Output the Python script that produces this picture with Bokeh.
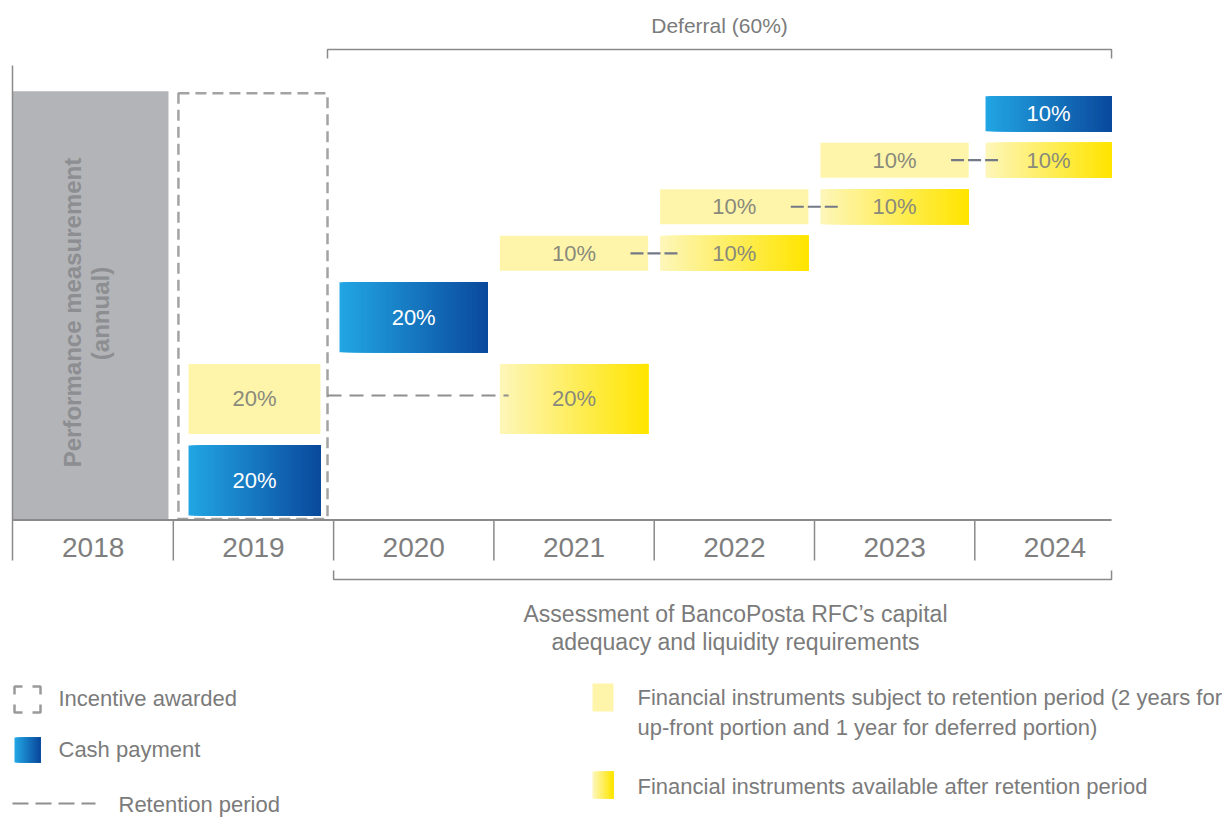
import numpy as np
from bokeh.plotting import figure
from bokeh.models import Range1d
from bokeh.embed import file_html
from bokeh.resources import INLINE
from bokeh.core.properties import value

# ---------------- data ----------------
years = ["2018", "2019", "2020", "2021", "2022", "2023", "2024"]
# staircase of portions, bottom-up
block_year = ["2019", "2019", "2020", "2021", "2022", "2023", "2024"]
block_value = [20, 20, 20, 10, 10, 10, 10]
block_kind = ["cash", "retained", "cash", "retained", "retained", "retained", "cash"]
# retention years for each "retained" block, in order (2 up-front, 1 deferred)
retention_years = [2, 1, 1, 1]
deferral_share = 60
perf_label = ["Performance measurement", "(annual)"]
assess_label = ["Assessment of BancoPosta RFC\u2019s capital", "adequacy and liquidity requirements"]
legend_left = ["Incentive awarded", "Cash payment", "Retention period"]
legend_right = ["Financial instruments subject to retention period (2 years for",
                "up-front portion and 1 year for deferred portion)",
                "Financial instruments available after retention period"]

# ---------------- layout ----------------
W, H = 1229, 818
OFF = 0
X0, COLW = 12.5, 160.3
BASE, K = 519.5, 3.5
GAP, B0 = 3.3, 1.3


def X(px):
    return (px - X0) / COLW


def Y(py):
    return (BASE - py) / K


col = {y: i for i, y in enumerate(years)}
INSET = {"2019": (0.095, 0.918), "2024": (0.067, 0.853)}
DEF_INSET = (0.037, 0.962)

SANS = value("Liberation Sans")
TXT = "#7b7b7b"
LINE = "#8a8a8a"
PALE = "#fef5aa"
BLUE0, BLUE1 = "#22a5e3", "#0a4a9d"
YEL0, YEL1 = "#fdf6b8", "#ffe500"
ON_YEL = "#8a8a7c"

p = figure(width=W, height=H, output_backend="svg", toolbar_location=None,
           x_range=Range1d(X(OFF), X(OFF + W)), y_range=Range1d(Y(OFF + H), Y(OFF)),
           min_border=0, min_border_left=0, min_border_right=0,
           min_border_top=0, min_border_bottom=0)
p.axis.visible = False
p.grid.visible = False
p.outline_line_color = None
p.background_fill_color = "white"
p.border_fill_color = "white"


def hex2rgb(h):
    h = h.lstrip("#")
    return np.array([int(h[i:i + 2], 16) for i in (0, 2, 4)], dtype=float)


def grad(l, r, b, t, c0, c1, n=48):
    """horizontal gradient: strips stacked left to right, each reaching the right edge"""
    a0, a1 = hex2rgb(c0), hex2rgb(c1)
    L, R, B, T, C = [], [], [], [], []
    for i in range(n):
        f = i / (n - 1)
        c = a0 + (a1 - a0) * f
        L.append(l + (r - l) * i / n)
        R.append(r)
        B.append(b)
        T.append(t)
        C.append("#%02x%02x%02x" % tuple(int(round(v)) for v in c))
    p.quad(left=L, right=R, bottom=B, top=T, fill_color=C, line_color=None)


def xspan(year):
    a, b = INSET.get(year, DEF_INSET)
    return col[year] + a, col[year] + b


# ---------------- stacked blocks ----------------
bottoms = []
cur = B0
for v in block_value:
    bottoms.append(cur)
    cur += v + GAP
stack_top = bottoms[-1] + block_value[-1]

# performance measurement (2018)
p.quad(left=[col["2018"]], right=[col["2018"] + 0.97], bottom=[0], top=[stack_top + 1.4],
       fill_color="#b3b4b7", line_color=None)
p.text(x=[X(72), X(100)], y=[Y(312), Y(313)], text=perf_label, angle=np.pi / 2,
       text_align="center", text_baseline="middle", text_font=SANS,
       text_font_style="bold", text_font_size="24px", text_color="#8d8e91")

# incentive awarded box (2019)
p.quad(left=[col["2019"] + 0.032], right=[col["2019"] + 0.962], bottom=[0.3],
       top=[stack_top + 0.8], fill_color=None, line_color="#a3a3a3",
       line_width=2.5, line_dash="11 6")

lx, ly, lt, lc = [], [], [], []
links = []
ri = 0
for yr, v, kind, b in zip(block_year, block_value, block_kind, bottoms):
    l, r = xspan(yr)
    t = b + v
    lx.append((l + r) / 2); ly.append(b + v / 2); lt.append(f"{v}%")
    if kind == "cash":
        grad(l, r, b, t, BLUE0, BLUE1)
        lc.append("#ffffff")
    else:
        p.quad(left=[l], right=[r], bottom=[b], top=[t], fill_color=PALE, line_color=None)
        lc.append(ON_YEL)
        ny = years[col[yr] + retention_years[ri]]
        l2, r2 = xspan(ny)
        grad(l2, r2, b, t, YEL0, YEL1)
        lx.append((l2 + r2) / 2); ly.append(b + v / 2); lt.append(f"{v}%"); lc.append(ON_YEL)
        if retention_years[ri] >= 2:
            links.append(("long", col[yr] + 0.962, l2 + 0.055, b + v / 2 + 1.0))
        else:
            links.append(("short", col[ny] - 0.148, col[ny] + 0.16, b + v / 2))
        ri += 1

p.text(x=lx, y=ly, text=lt, text_align="center", text_baseline="middle",
       text_font=SANS, text_font_size="22px", text_color=lc)

# retention links
for kind, x0, x1, yy in links:
    if kind == "long":
        p.line([x0, x1], [yy, yy], line_color="#8f8f8f", line_width=2, line_dash="14 8")
    else:
        p.line([x0, x1], [yy, yy], line_color="#747986", line_width=2.2, line_dash="13 4")

# ---------------- axis / brackets ----------------
right_end = xspan("2024")[1]
p.line([0, right_end], [0, 0], line_color=LINE, line_width=2)
p.line([X(12), X(12)], [Y(65), Y(560)], line_color=LINE, line_width=1.5)
p.multi_line(xs=[[i, i] for i in range(1, len(years))],
             ys=[[0, Y(560)] for _ in range(1, len(years))], line_color=LINE, line_width=1.5)
p.text(x=[i + 0.5 for i in range(len(years))], y=[Y(547)] * len(years), text=years,
       text_align="center", text_baseline="middle", text_font=SANS,
       text_font_size="28px", text_color="#7e7e7e")

# deferral bracket
dl = col["2019"] + 0.962
p.line([dl, dl, right_end, right_end], [Y(58), Y(49), Y(49), Y(58)], line_color=LINE, line_width=1.5)
p.text(x=[(dl + right_end) / 2], y=[Y(25)], text=[f"Deferral ({deferral_share}%)"],
       text_align="center", text_baseline="middle", text_font=SANS,
       text_font_size="21px", text_color=TXT)

# assessment bracket
al = col["2020"]
p.line([al, al, right_end, right_end], [Y(570), Y(579), Y(579), Y(570)], line_color=LINE, line_width=1.5)
p.text(x=[X(735), X(735)], y=[Y(613), Y(641)], text=assess_label,
       text_align="center", text_baseline="middle", text_font=SANS,
       text_font_size="23px", text_color=TXT)

# ---------------- legend ----------------
a = 8
cx0, cx1, cy0, cy1 = 14, 40, 686, 712
p.multi_line(
    xs=[[X(cx0), X(cx0), X(cx0 + a)], [X(cx1 - a), X(cx1), X(cx1)],
        [X(cx0), X(cx0), X(cx0 + a)], [X(cx1 - a), X(cx1), X(cx1)]],
    ys=[[Y(cy0 + a), Y(cy0), Y(cy0)], [Y(cy0), Y(cy0), Y(cy0 + a)],
        [Y(cy1 - a), Y(cy1), Y(cy1)], [Y(cy1), Y(cy1), Y(cy1 - a)]],
    line_color="#9a9a9a", line_width=2.5)
grad(X(14), X(40), Y(762), Y(737), BLUE0, BLUE1, n=16)
p.line([X(12), X(95)], [Y(803), Y(803)], line_color="#8f8f8f", line_width=2, line_dash="16 7")
p.text(x=[X(58), X(58), X(118)], y=[Y(698), Y(749), Y(804)], text=legend_left,
       text_align="left", text_baseline="middle", text_font=SANS,
       text_font_size="22px", text_color=TXT)

p.quad(left=[X(592)], right=[X(613)], bottom=[Y(711)], top=[Y(683)], fill_color=PALE, line_color=None)
grad(X(592), X(613), Y(798), Y(771), YEL0, YEL1, n=12)
p.text(x=[X(637)] * 3, y=[Y(697), Y(727), Y(786)], text=legend_right,
       text_align="left", text_baseline="middle", text_font=SANS,
       text_font_size="22px", text_color=TXT)

open("out.html", "w").write(file_html(p, INLINE))
